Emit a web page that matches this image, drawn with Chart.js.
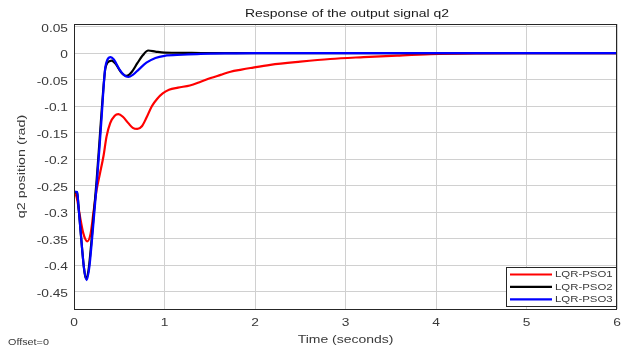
<!DOCTYPE html>
<html>
<head>
<meta charset="utf-8">
<script src="https://cdn.jsdelivr.net/npm/chart.js@4.4.1/dist/chart.umd.min.js"></script>
<style>
  html, body { margin: 0; padding: 0; background: #fff; }
  #wrap { width: 633px; height: 354px; position: relative; }
</style>
</head>
<body>
<div id="wrap"><canvas id="q2chart"></canvas></div>
<script>
// q2 step responses for the three tuned controllers
const tPso1 = [0, 0.03, 0.066, 0.103, 0.147, 0.184, 0.214, 0.25, 0.288, 0.325, 0.36, 0.4, 0.45, 0.49, 0.54, 0.6, 0.65, 0.7, 0.75, 0.8, 0.86, 0.92, 0.98, 1.05, 1.15, 1.28, 1.4, 1.51, 1.62, 1.73, 1.85, 1.95, 2.17, 2.5, 2.83, 3.2, 3.57, 3.94, 4.5, 5, 6];
const qPso1 = [-0.262, -0.272, -0.308, -0.34, -0.355, -0.34, -0.302, -0.258, -0.226, -0.195, -0.157, -0.132, -0.118, -0.115, -0.12, -0.132, -0.141, -0.143, -0.138, -0.122, -0.1, -0.086, -0.076, -0.069, -0.065, -0.061, -0.054, -0.047, -0.041, -0.035, -0.031, -0.028, -0.022, -0.016, -0.011, -0.0075, -0.0045, -0.002, -0.0005, 0, 0];

const tPso2 = [0, 0.035, 0.05, 0.07, 0.09, 0.11, 0.13, 0.16, 0.19, 0.22, 0.25, 0.28, 0.305, 0.325, 0.345, 0.37, 0.415, 0.46, 0.52, 0.58, 0.64, 0.7, 0.76, 0.82, 0.9, 1.0, 1.1, 1.3, 1.6, 6];
const qPso2 = [-0.262, -0.263, -0.29, -0.33, -0.37, -0.405, -0.425, -0.41, -0.36, -0.3, -0.24, -0.17, -0.11, -0.065, -0.03, -0.018, -0.014, -0.02, -0.036, -0.043, -0.035, -0.019, -0.004, 0.005, 0.003, 0.001, 0.0008, 0.0005, 0, 0];

const tPso3 = [0, 0.035, 0.05, 0.07, 0.09, 0.11, 0.14, 0.17, 0.2, 0.225, 0.25, 0.28, 0.305, 0.325, 0.345, 0.37, 0.405, 0.44, 0.5, 0.55, 0.6, 0.65, 0.72, 0.8, 0.9, 1.0, 1.2, 1.4, 1.7, 2.0, 6];
const qPso3 = [-0.261, -0.262, -0.29, -0.33, -0.37, -0.405, -0.428, -0.403, -0.35, -0.3, -0.25, -0.182, -0.122, -0.069, -0.028, -0.012, -0.0075, -0.012, -0.03, -0.041, -0.045, -0.041, -0.03, -0.018, -0.009, -0.005, -0.003, -0.0015, -0.0005, 0, 0];

const seriesNames = ['LQR-PSO1', 'LQR-PSO2', 'LQR-PSO3'];
const seriesColors = ['#ff0000', '#000000', '#0000ff'];

const xTicks = [0, 1, 2, 3, 4, 5, 6];
const xTickLabels = ['0', '1', '2', '3', '4', '5', '6'];
const yTicks = [0.05, 0, -0.05, -0.1, -0.15, -0.2, -0.25, -0.3, -0.35, -0.4, -0.45];
const yTickLabels = ['0.05', '0', '-0.05', '-0.1', '-0.15', '-0.2', '-0.25', '-0.3', '-0.35', '-0.4', '-0.45'];

const FONT = '"Liberation Sans", Arial, sans-serif';
const TEXT = '#3a3a3a';

function pts(t, q) {
    let out = [];
    for (let i = 0; i < t.length; i++) out.push({x: t[i], y: q[i]});
    return out;
}

// the exported figure has wide, slightly stretched lettering
function wideText(ctx, str, x, y, size, sx, align, rot) {
    ctx.save();
    ctx.translate(x, y);
    if (rot) ctx.rotate(rot);
    ctx.scale(sx, 1);
    ctx.font = size + 'px ' + FONT;
    ctx.textAlign = align;
    ctx.textBaseline = 'middle';
    ctx.fillText(str, 0, 0);
    ctx.restore();
}

// axes box, tick labels, titles and the boxed legend in the lower right corner
const decorations = {
    id: 'decorations',
    afterDraw(chart) {
        const {ctx, chartArea: a} = chart;
        const xs = chart.scales.x, ys = chart.scales.y;
        ctx.save();
        ctx.strokeStyle = '#262626';
        ctx.lineWidth = 1;
        ctx.strokeRect(a.left + 0.5, a.top + 0.5, a.right - a.left - 1, a.bottom - a.top);

        ctx.fillStyle = TEXT;
        xTicks.forEach((v, i) => wideText(ctx, xTickLabels[i], xs.getPixelForValue(v), 323, 11, 1.25, 'center'));
        yTicks.forEach((v, i) => wideText(ctx, yTickLabels[i], 68, ys.getPixelForValue(v) + 2, 11, 1.25, 'right'));

        ctx.fillStyle = '#1a1a1a';
        wideText(ctx, 'Response of the output signal q2', 347, 14, 10.5, 1.33, 'center');

        ctx.fillStyle = TEXT;
        wideText(ctx, 'Time (seconds)', (a.left + a.right) / 2, 340, 11, 1.27, 'center');
        wideText(ctx, 'q2 position (rad)', 22, (a.top + a.bottom) / 2, 11, 1.3, 'center', -Math.PI / 2);
        wideText(ctx, 'Offset=0', 8, 343, 9, 1.2, 'left');

        // legend
        const lx = 506, ly = 267, lw = a.right - 506, lh = 40;
        ctx.fillStyle = '#fff';
        ctx.fillRect(lx, ly, lw, lh);
        ctx.strokeStyle = '#262626';
        ctx.lineWidth = 1;
        ctx.strokeRect(lx + 0.5, ly + 0.5, lw - 1, lh - 1);
        ctx.lineWidth = 2.2;
        for (let i = 0; i < seriesNames.length; i++) {
            const y = ly + 7.5 + i * 12.4;
            ctx.strokeStyle = seriesColors[i];
            ctx.beginPath();
            ctx.moveTo(510, y);
            ctx.lineTo(552, y);
            ctx.stroke();
            ctx.fillStyle = TEXT;
            wideText(ctx, seriesNames[i], 555, y, 9.5, 1.2, 'left');
        }
        ctx.restore();
    }
};

new Chart(document.getElementById('q2chart'), {
    type: 'line',
    data: {
        datasets: [
            {label: seriesNames[0], data: pts(tPso1, qPso1), borderColor: seriesColors[0], order: 2},
            {label: seriesNames[1], data: pts(tPso2, qPso2), borderColor: seriesColors[1], order: 1},
            {label: seriesNames[2], data: pts(tPso3, qPso3), borderColor: seriesColors[2], order: 0},
        ]
    },
    options: {
        responsive: true,
        maintainAspectRatio: false,
        animation: false,
        events: [],
        elements: {
            point: {radius: 0},
            line: {borderWidth: 2.2, cubicInterpolationMode: 'monotone', fill: false}
        },
        layout: {padding: {top: 24, right: 16, left: 0, bottom: 0}},
        plugins: {
            legend: {display: false},
            title: {display: false},
            tooltip: {enabled: false}
        },
        scales: {
            x: {
                type: 'linear',
                min: 0,
                max: 6,
                afterBuildTicks: (s) => { s.ticks = xTicks.map(v => ({value: v})); },
                afterFit: (s) => { s.height = 45; },
                ticks: {display: false},
                grid: {color: '#d0d0d0', drawTicks: false},
                border: {display: false}
            },
            y: {
                type: 'linear',
                min: -0.4826,
                max: 0.055,
                afterBuildTicks: (s) => { s.ticks = yTicks.map(v => ({value: v})); },
                afterFit: (s) => { s.width = 74; },
                ticks: {display: false},
                grid: {color: '#d0d0d0', drawTicks: false},
                border: {display: false}
            }
        }
    },
    plugins: [decorations]
});
</script>
</body>
</html>
